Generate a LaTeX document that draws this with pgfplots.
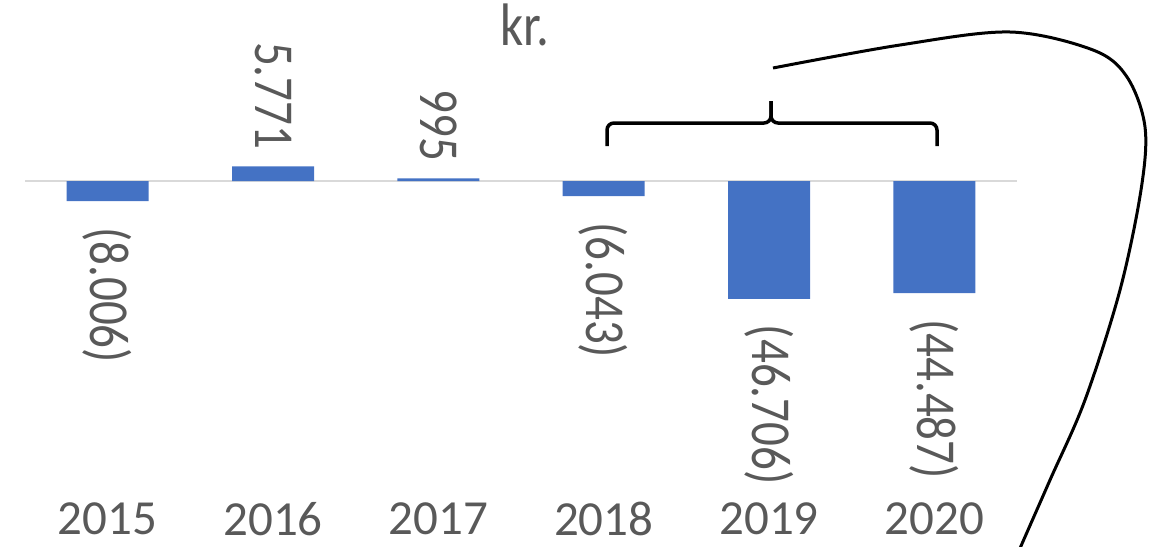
\documentclass[border=0pt]{standalone}
\usepackage{fontspec}
\setmainfont{Carlito}
\usepackage{pgfplots}
\pgfplotsset{compat=1.18}
\usepackage{pgfplotstable}
\definecolor{barblue}{HTML}{4472C4}
\definecolor{txtgray}{HTML}{595959}
\definecolor{gridgray}{HTML}{D9D9D9}

\pgfplotstableread{
x y
0 -8006
1 5771
2 995
3 -6043
4 -46706
5 -44487
}\datatable
\pgfplotstableread{
x y label
1 5771 5.771
2 995 995
}\postable
\pgfplotstableread{
x y label
0 -8006 (8.006)
3 -6043 (6.043)
4 -46706 (46.706)
5 -44487 (44.487)
}\negtable

\begin{document}
\begin{tikzpicture}
\path[use as bounding box] (0,0) rectangle (1166pt,-546pt);
\begin{axis}[
  at={(25pt,0pt)}, anchor=north west,
  scale only axis, width=992pt, height=546pt,
  xmin=-0.5, xmax=5.5, ymin=-144726, ymax=71768,
  axis line style={draw=none},
  xtick={0,...,5}, xticklabels={2015,2016,2017,2018,2019,2020},
  xtick style={draw=none},
  xticklabel style={font=\fontsize{49}{56}\selectfont, text=txtgray, anchor=center, yshift=27pt},
  ytick=\empty,
  extra y ticks={0}, extra y tick labels={},
  extra y tick style={grid=major, major grid style={gridgray, line width=2pt}, tick style={draw=none}},
  clip=false,
]
\addplot[ybar, bar width=82pt, fill=barblue, draw=none] table[x=x, y=y] {\datatable};
\addplot[draw=none, mark=none, point meta=explicit symbolic, nodes near coords,
  every node near coord/.append style={font=\fontsize{47}{54}\selectfont, text=txtgray, xscale=1.2, rotate=-90, anchor=east, inner xsep=17pt, inner ysep=0pt},
] table[x=x, y=y, meta=label] {\postable};
\addplot[draw=none, mark=none, point meta=explicit symbolic, nodes near coords,
  every node near coord/.append style={font=\fontsize{47}{54}\selectfont, text=txtgray, xscale=1.2, rotate=-90, anchor=west, inner xsep=26pt, inner ysep=0pt},
] table[x=x, y=y, meta=label] {\negtable};
\end{axis}
\begin{scope}[x=1pt, y=-1pt]
\node[font=\fontsize{60}{66}\selectfont, text=txtgray, anchor=base, inner sep=0pt, xscale=0.85] at (525,45) {kr.};
\draw[line width=3.5pt, rounded corners=7pt] (607,146) -- (607,123) -- (771,123) -- (771,101);
\draw[line width=3.5pt, rounded corners=7pt] (771,101) -- (771,123) -- (937,123) -- (937,146);
\draw[line width=3pt] plot[smooth, tension=0.55] coordinates {(773,68) (900,45) (1010,32) (1093,50) (1127,77) (1145,127) (1141,190) (1120,290) (1085,400) (1050,480) (1021,546) (1017,556)};
\end{scope}
\end{tikzpicture}
\end{document}
